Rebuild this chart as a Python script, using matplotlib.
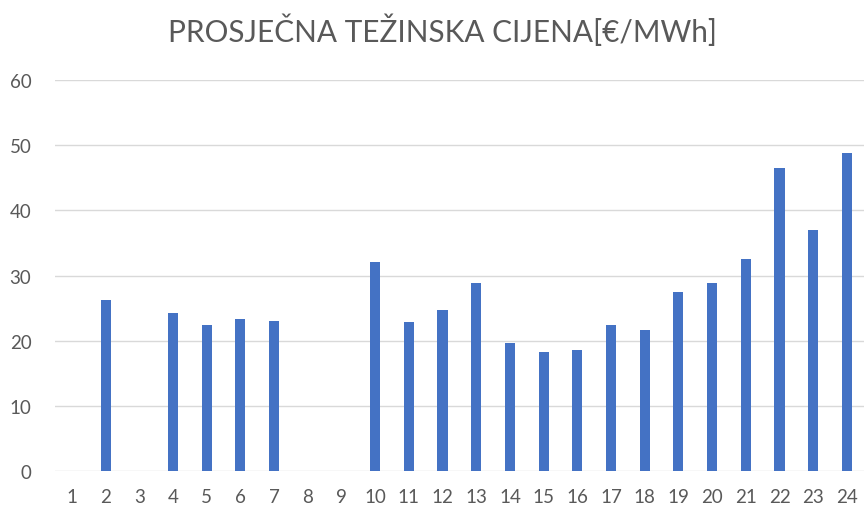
import matplotlib
matplotlib.use("Agg")
import matplotlib.pyplot as plt

hours = [str(i) for i in range(1, 25)]
prices = [0, 26.3, 0, 24.2, 22.4, 23.3, 23.0, 0, 0, 32.1, 22.8, 24.7,
          28.8, 19.6, 18.2, 18.6, 22.4, 21.7, 27.4, 28.8, 32.6, 46.5, 37.0, 48.8]
yticks = [0, 10, 20, 30, 40, 50, 60]
title = "PROSJEČNA TEŽINSKA CIJENA[€/MWh]"

plt.rcParams['font.family'] = ['Lato', 'DejaVu Sans']
fig = plt.figure(figsize=(8.65, 5.10), dpi=100)
ax = fig.add_axes([0.0636, 0.0745, 0.935, 0.7665])
x = list(range(len(hours)))
ax.bar(x, prices, width=0.3, color='#4472C4', zorder=3)
ax.set_xlim(-0.5, len(hours) - 0.5)
ax.set_ylim(0, 60)
ax.set_yticks(yticks)
ax.set_xticks(x)
ax.set_xticklabels(hours)
ax.grid(axis='y', color='#d9d9d9', linewidth=1.0, zorder=0)
for s in ax.spines.values():
    s.set_visible(False)
ax.tick_params(length=0, labelsize=13.5, labelcolor='#595959')
ax.tick_params(axis='y', pad=17)
ax.tick_params(axis='x', pad=12)
fig.text(0.512, 0.94, title, ha='center', va='center', fontsize=21.4, color='#595959')
fig.savefig('out.png', dpi=100, facecolor='white')
